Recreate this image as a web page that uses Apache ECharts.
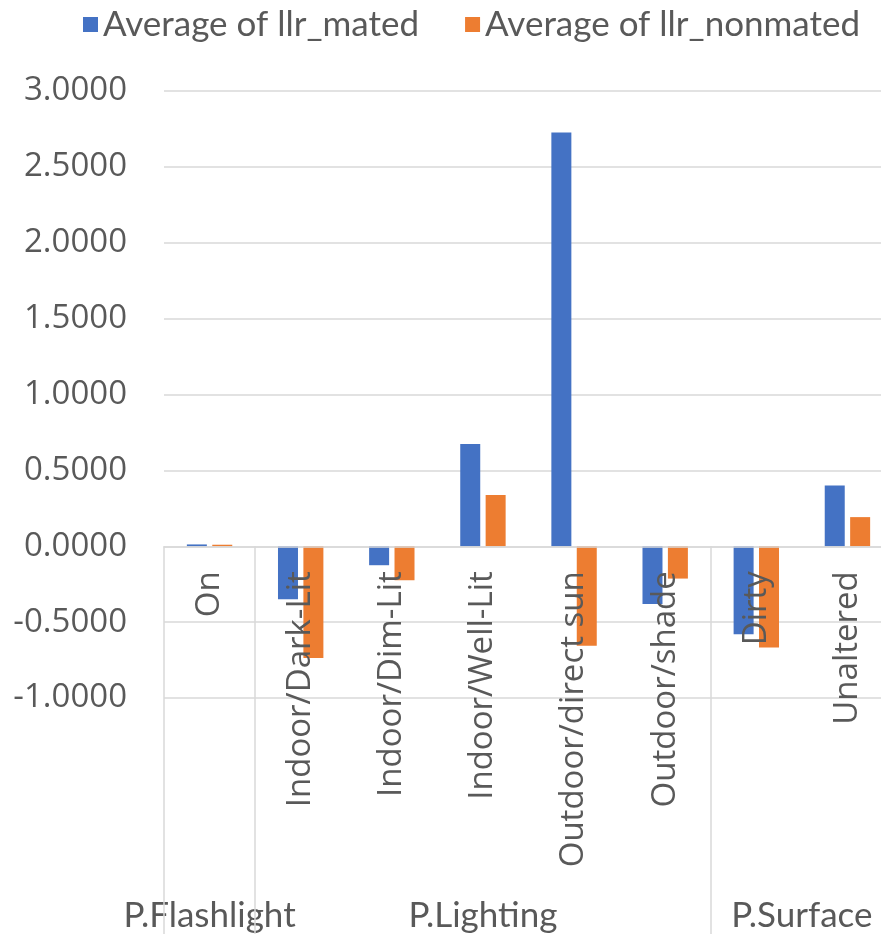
<!DOCTYPE html>
<html>
<head>
<meta charset="utf-8">
<script src="https://cdn.jsdelivr.net/npm/echarts@6/dist/echarts.min.js"></script>
<style>
html,body{margin:0;padding:0;background:#fff;}
#chart{width:881px;height:934px;}
</style>
</head>
<body>
<div id="chart"></div>
<script>
// ---- data ----
const categories = ['On', 'Indoor/Dark-Lit', 'Indoor/Dim-Lit', 'Indoor/Well-Lit', 'Outdoor/direct sun', 'Outdoor/shade', 'Dirty', 'Unaltered'];
const groupNames = ['P.Flashlight', 'P.Lighting', 'P.Surface'];
const groupSizes = [1, 5, 2];
const seriesNames = ['Average of llr_mated', 'Average of llr_nonmated'];
const llrMated = [0.012, -0.350, -0.125, 0.674, 2.727, -0.381, -0.580, 0.400];
const llrNonmated = [0.010, -0.737, -0.224, 0.337, -0.655, -0.213, -0.667, 0.192];
const yTicks = [-1, -0.5, 0, 0.5, 1, 1.5, 2, 2.5, 3];

// ---- derived ----
const boundaries = [0];
groupSizes.forEach(s => boundaries.push(boundaries[boundaries.length - 1] + s));
const groupCenters = {};
groupSizes.forEach((s, i) => { groupCenters[(boundaries[i] + s / 2).toFixed(2)] = groupNames[i]; });

const textColor = '#595959';
const gridColor = '#D9D9D9';
const plotTop = 91, plotHeight = 607;
const yMin = yTicks[0], yMax = yTicks[yTicks.length - 1];
// move the category axis up from the plot bottom to the zero line
const zeroOffset = -plotHeight * (0 - yMin) / (yMax - yMin);

const chart = echarts.init(document.getElementById('chart'), null, {renderer: 'canvas'});
chart.setOption({
  animation: false,
  color: ['#4472C4', '#ED7D31'],
  legend: {
    top: 2,
    left: 78,
    itemWidth: 15,
    itemHeight: 15,
    itemGap: 46,
    icon: 'rect',
    textStyle: {color: textColor, fontSize: 35, fontFamily: 'Lato'},
    data: seriesNames
  },
  grid: [
    {left: 164, top: plotTop, width: 729, height: plotHeight, containLabel: false, outerBoundsMode: 'none'},
    {left: 164, top: 882, width: 729, height: 10, containLabel: false, outerBoundsMode: 'none'}
  ],
  xAxis: [{
    type: 'category',
    gridIndex: 0,
    position: 'bottom',
    offset: zeroOffset,
    data: categories,
    z: 10,
    axisLine: {show: true, onZero: false, lineStyle: {color: gridColor, width: 1.5}},
    axisTick: {
      show: true,
      length: 392,
      interval: function (index) { return boundaries.indexOf(index) >= 0; },
      lineStyle: {color: gridColor, width: 1.5}
    },
    axisLabel: {
      rotate: 90,
      interval: 0,
      margin: 25,
      color: textColor,
      fontSize: 33,
      fontFamily: 'Open Sans'
    },
    splitLine: {show: false}
  }, {
    type: 'value',
    gridIndex: 1,
    position: 'bottom',
    min: 0,
    max: categories.length,
    interval: 0.5,
    axisLine: {show: false, onZero: false},
    axisTick: {show: false},
    splitLine: {show: false},
    axisLabel: {
      margin: 6,
      color: textColor,
      fontSize: 35,
      fontFamily: 'Lato',
      showMinLabel: true,
      showMaxLabel: true,
      formatter: function (v) { return groupCenters[v.toFixed(2)] || ''; }
    }
  }],
  yAxis: [{
    type: 'value',
    gridIndex: 0,
    min: yMin,
    max: yMax,
    interval: yTicks[1] - yTicks[0],
    axisLine: {show: false},
    axisTick: {show: false},
    axisLabel: {
      margin: 37,
      color: textColor,
      fontSize: 33,
      fontFamily: 'Open Sans',
      formatter: function (v) { return v.toFixed(4); }
    },
    splitLine: {lineStyle: {color: gridColor, width: 1.5}}
  }, {
    type: 'value',
    gridIndex: 1,
    show: false,
    min: 0,
    max: 1
  }],
  series: [{
    name: seriesNames[0],
    type: 'bar',
    data: llrMated,
    barWidth: 20,
    barGap: '27%'
  }, {
    name: seriesNames[1],
    type: 'bar',
    data: llrNonmated,
    barWidth: 20,
    barGap: '27%'
  }]
});
</script>
</body>
</html>
